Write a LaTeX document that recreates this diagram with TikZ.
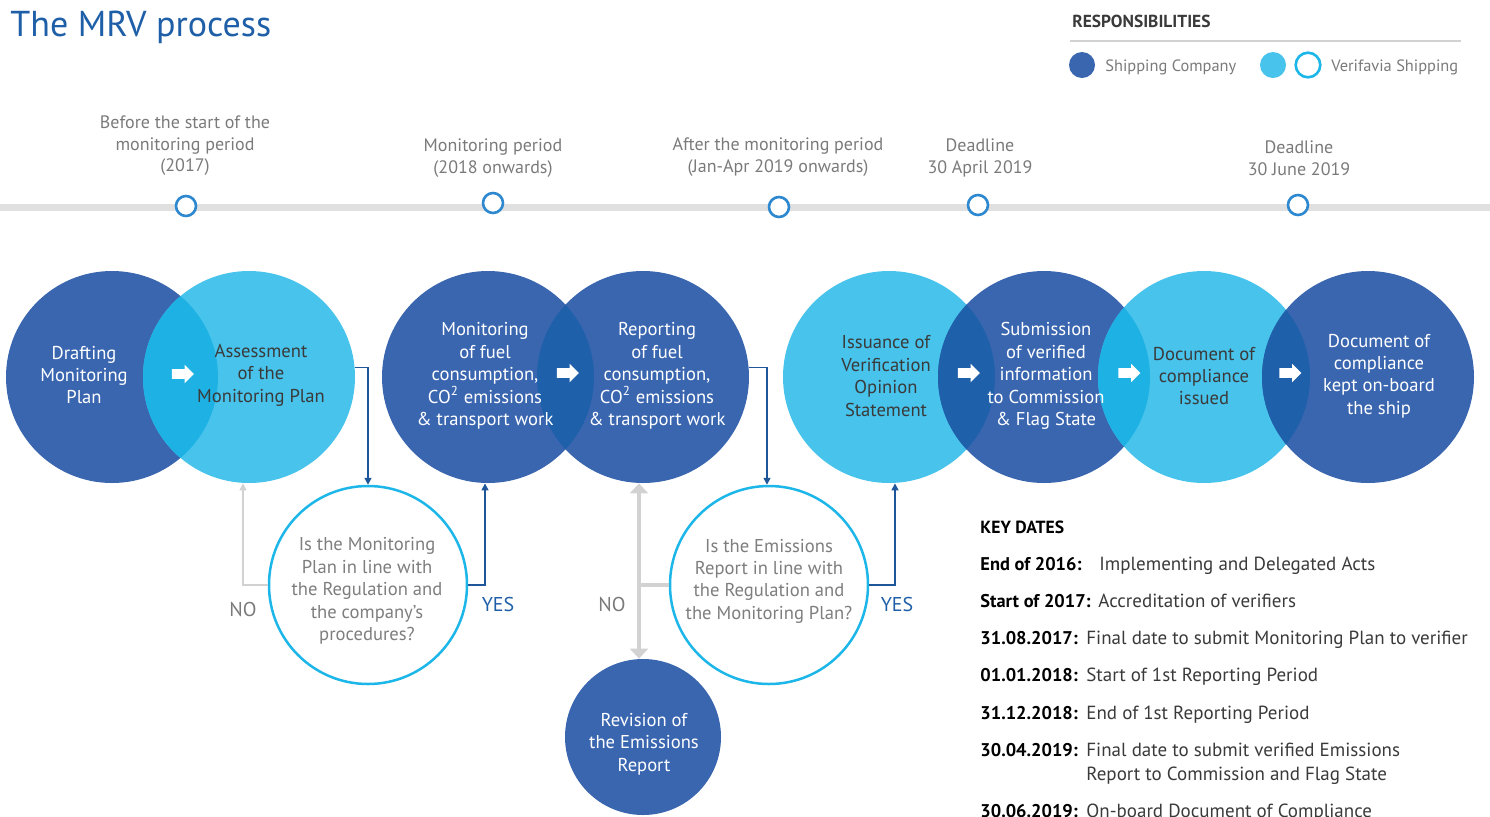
\documentclass[tikz,border=0pt]{standalone}
\usepackage{fontspec}
\setmainfont{PT Sans}
\usetikzlibrary{arrows.meta,shapes.arrows,calc}

\definecolor{shipblue}{HTML}{3A66B0}
\definecolor{veriblue}{HTML}{47C3EC}
\definecolor{lenscyan}{HTML}{1EB1E3}
\definecolor{lensdeep}{HTML}{1F60AB}
\definecolor{askring}{HTML}{1DB6E8}
\definecolor{veritext}{HTML}{3A3A3A}
\definecolor{asktext}{HTML}{7E7E7E}
\definecolor{yesblue}{HTML}{1F569A}
\definecolor{nogray}{HTML}{D2D2D2}
\definecolor{titleblue}{HTML}{1E5FA8}
\definecolor{dotblue}{HTML}{2D88CF}
\definecolor{railgray}{HTML}{E0E0E0}
\definecolor{notegray}{HTML}{7A7A7A}

\begin{document}
\begin{tikzpicture}[x=0.5pt, y=-0.5pt,
  stage/.style={circle, minimum size=106pt, inner sep=0pt},
  shipstage/.style={stage, fill=shipblue},
  veristage/.style={stage, fill=veriblue},
  question/.style={circle, minimum size=99pt, inner sep=0pt, draw=askring, line width=1.25pt, fill=white},
  revision/.style={circle, minimum size=78pt, inner sep=0pt, fill=shipblue},
  words/.style={align=center, font=\fontsize{9.3}{11.2}\selectfont},
  onship/.style={words, text=white},
  onveri/.style={words, text=veritext},
  asks/.style={words, text=asktext},
  turn/.style={single arrow, fill=white, inner sep=2.2pt, minimum height=11pt, single arrow head extend=2.2pt},
  yesline/.style={draw=yesblue, line width=0.75pt, -{Triangle[length=3.5pt,width=3.5pt]}},
  noline/.style={draw=nogray, line width=0.75pt, -{Triangle[length=3.5pt,width=3.5pt]}},
  nothick/.style={draw=nogray, line width=2pt},
  yeslabel/.style={font=\fontsize{10}{12}\selectfont, text=titleblue},
  nolabel/.style={font=\fontsize{10}{12}\selectfont, text=notegray},
  milestone/.style={circle, minimum size=10pt, inner sep=0pt, draw=dotblue, line width=1.3pt, fill=white},
  period/.style={align=center, font=\fontsize{9}{10.75}\selectfont, text=notegray},
  legendtext/.style={anchor=base west, inner sep=0pt, font=\fontsize{8.2}{10}\selectfont, text=notegray},
  datekey/.style={anchor=base west, inner sep=0pt, font=\fontsize{9.2}{11}\selectfont\bfseries, text=black},
  datetext/.style={anchor=base west, inner sep=0pt, font=\fontsize{9.5}{11}\selectfont, text=veritext}
]
\useasboundingbox (0,0) rectangle (1490,816);

% title and legend
\node[anchor=base west, inner sep=0pt, font=\fontsize{18}{20}\selectfont, text=titleblue] (title) at (10,36) {The MRV process};
\node[anchor=base west, inner sep=0pt, font=\fontsize{8.7}{10}\selectfont\bfseries, text=veritext] (resp) at (1072,27) {RESPONSIBILITIES};
\draw[draw=nogray, line width=0.6pt] (1070,41) -- (1461,41);
\node[circle, minimum size=13pt, inner sep=0pt, fill=shipblue] (leg-ship) at (1082,65) {};
\node[legendtext] (leg-ship-t) at (1105,71) {Shipping Company};
\node[circle, minimum size=13pt, inner sep=0pt, fill=veriblue] (leg-veri) at (1273,65) {};
\node[circle, minimum size=12.3pt, inner sep=0pt, draw=askring, line width=1.3pt] (leg-ask) at (1308,65) {};
\node[legendtext] (leg-veri-t) at (1331,71) {Verifavia Shipping};

% timeline
\draw[draw=railgray, line width=3.5pt] (0,207) -- (1490,207);
\node[milestone] (t-2017) at (186,206) {};
\node[milestone] (t-2018) at (493,203) {};
\node[milestone] (t-after) at (779,207) {};
\node[milestone] (t-april) at (978,205) {};
\node[milestone] (t-june) at (1298,205) {};
\node[period] (p-2017) at (185,146) {Before the start of the\\monitoring period\\(2017)};
\node[period] (p-2018) at (493,158) {Monitoring period\\(2018 onwards)};
\node[period] (p-after) at (778,157) {After the monitoring period\\(Jan-Apr 2019 onwards)};
\node[period] (p-april) at (980,158) {Deadline\\30 April 2019};
\node[period] (p-june) at (1299,158) {Deadline\\30 June 2019};

% stages
\node[shipstage] (draft) at (112,377) {};
\node[veristage] (assess) at (249,377) {};
\node[shipstage] (mon) at (488,377) {};
\node[shipstage] (rep) at (643,377) {};
\node[veristage] (issue) at (889,377) {};
\node[shipstage] (submit) at (1044,377) {};
\node[veristage] (docis) at (1204,377) {};
\node[shipstage] (kept) at (1368,377) {};

% overlaps
\begin{scope}
  \clip (draft.center) circle[radius=53pt];
  \fill[lenscyan] (assess.center) circle[radius=53pt];
\end{scope}
\begin{scope}
  \clip (mon.center) circle[radius=53pt];
  \fill[lensdeep] (rep.center) circle[radius=53pt];
\end{scope}
\begin{scope}
  \clip (issue.center) circle[radius=53pt];
  \fill[lensdeep] (submit.center) circle[radius=53pt];
\end{scope}
\begin{scope}
  \clip (submit.center) circle[radius=53pt];
  \fill[lenscyan] (docis.center) circle[radius=53pt];
\end{scope}
\begin{scope}
  \clip (docis.center) circle[radius=53pt];
  \fill[lensdeep] (kept.center) circle[radius=53pt];
\end{scope}

\node[turn] (go1) at ($(draft)!0.5!(assess)+(0,-3)$) {};
\node[turn] (go2) at ($(mon)!0.5!(rep)+(0,-4)$) {};
\node[turn] (go3) at ($(issue)!0.5!(submit)+(0,-4)$) {};
\node[turn] (go4) at ($(submit)!0.5!(docis)+(3,-4)$) {};
\node[turn] (go5) at ($(docis)!0.5!(kept)+(2,-4)$) {};

\node[onship] (draft-t) at (84,375) {Drafting\\Monitoring\\Plan};
\node[onveri] (assess-t) at (261,375) {Assessment\\of the\\Monitoring Plan};
\node[onship] (mon-t) at (485,376) {Monitoring\\of fuel\\consumption,\\CO\textsuperscript{2} emissions\\\& transport work};
\node[onship] (rep-t) at (657,376) {Reporting\\of fuel\\consumption,\\CO\textsuperscript{2} emissions\\\& transport work};
\node[onveri] (issue-t) at (886,376) {Issuance of\\Verification\\Opinion\\Statement};
\node[onship] (submit-t) at (1046,376) {Submission\\of verified\\information\\to Commission\\\& Flag State};
\node[onveri] (docis-t) at (1204,376) {Document of\\compliance\\issued};
\node[onship] (kept-t) at (1379,376) {Document of\\compliance\\kept on-board\\the ship};

% checks
\node[question] (q-plan) at (368,585) {};
\node[asks] (q-plan-t) at (367,591) {Is the Monitoring\\Plan in line with\\the Regulation and\\the company's\\procedures?};
\node[question] (q-report) at (769,585) {};
\node[asks] (q-report-t) at (769,581) {Is the Emissions\\Report in line with\\the Regulation and\\the Monitoring Plan?};
\node[revision] (rev) at (643,737) {};
\node[onship] (rev-t) at (644,744) {Revision of\\the Emissions\\Report};

\draw[yesline] (assess.5) -| (q-plan.north);
\draw[yesline] (q-plan.east) -| ([xshift=-1.5pt]mon.south);
\draw[noline] (q-plan.west) -| ([xshift=-3pt]assess.south);
\draw[yesline] (rep.5) -| ([xshift=-1pt]q-report.north);
\draw[yesline] (q-report.east) -| ([xshift=3pt]issue.south);
\coordinate (fork) at (639,585);
\draw[nothick] (q-report.west) -- (fork);
\draw[nothick, {Triangle[length=5pt,width=9pt]}-{Triangle[length=5pt,width=9pt]}] ([xshift=-2pt]rep.south) -- ([xshift=-2pt]rev.north);

\node[nolabel] (no-plan) at (243,609) {NO};
\node[yeslabel] (yes-plan) at (498,604) {YES};
\node[nolabel] (no-report) at (612,604) {NO};
\node[yeslabel] (yes-report) at (897,604) {YES};

% key dates
\node[datekey, font=\fontsize{8.8}{11}\selectfont\bfseries] (kd-head) at (980,533) {KEY DATES};
\node[datekey] (kd-2016) at (980,570) {End of 2016:};
\node[datetext] (kd-2016-t) at (1099,570) {Implementing and Delegated Acts};
\node[datekey] (kd-2017) at (980,607) {Start of 2017:};
\node[datetext] (kd-2017-t) at (1098,607) {Accreditation of verifiers};
\node[datekey] (kd-plan) at (980,644) {31.08.2017:};
\node[datetext] (kd-plan-t) at (1086,644) {Final date to submit Monitoring Plan to verifier};
\node[datekey] (kd-start) at (980,681) {01.01.2018:};
\node[datetext] (kd-start-t) at (1086,681) {Start of 1st Reporting Period};
\node[datekey] (kd-end) at (980,719) {31.12.2018:};
\node[datetext] (kd-end-t) at (1086,719) {End of 1st Reporting Period};
\node[datekey] (kd-submit) at (980,756) {30.04.2019:};
\node[datetext] (kd-submit-t) at (1086,756) {Final date to submit verified Emissions};
\node[datetext] (kd-submit-t2) at (1086,780) {Report to Commission and Flag State};
\node[datekey] (kd-board) at (980,817) {30.06.2019:};
\node[datetext] (kd-board-t) at (1086,817) {On-board Document of Compliance};
\end{tikzpicture}
\end{document}
